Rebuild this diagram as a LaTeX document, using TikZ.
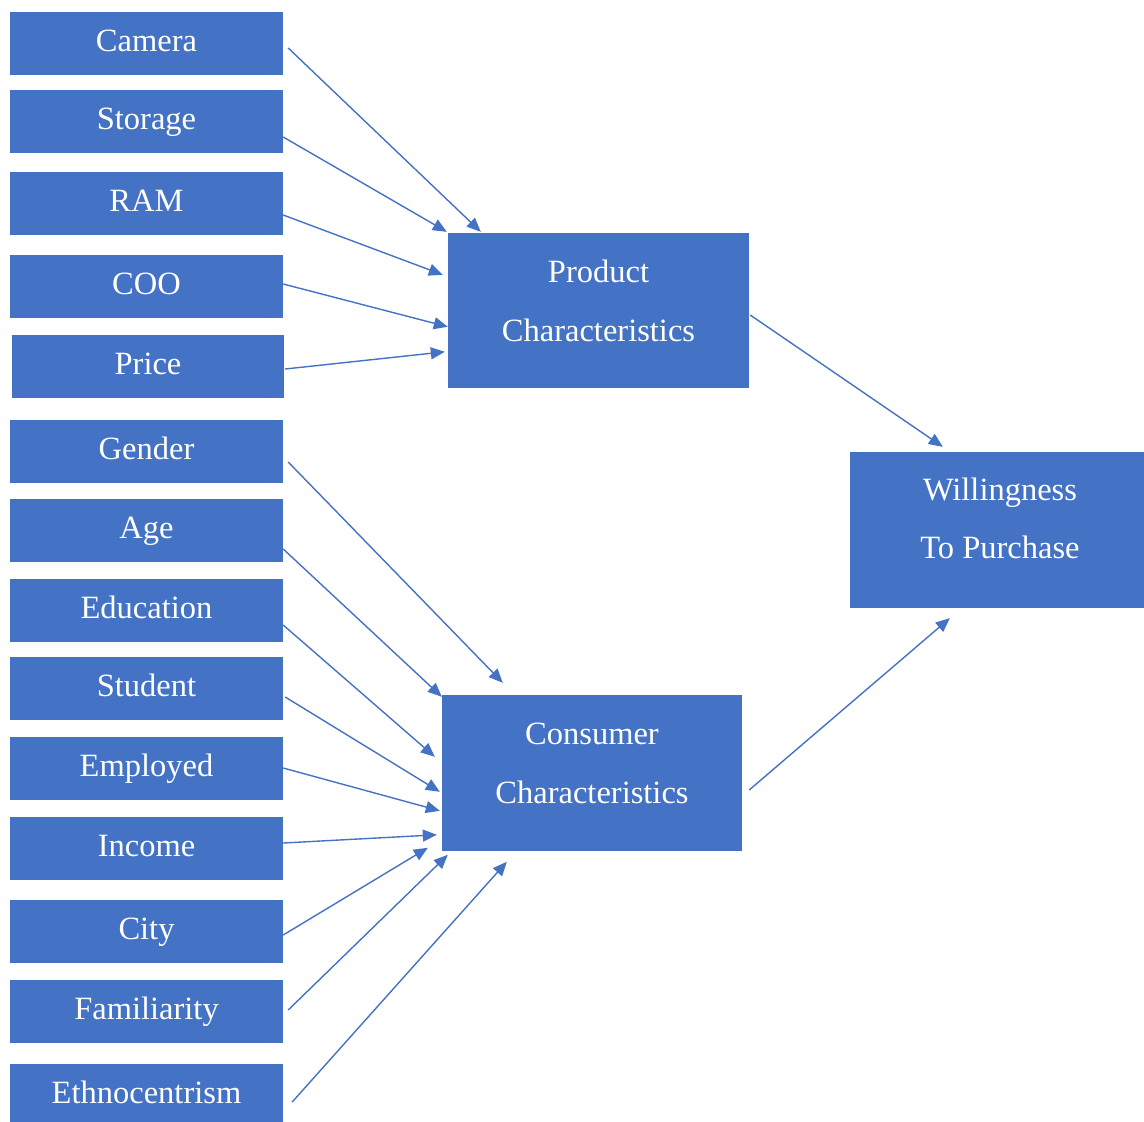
\documentclass[tikz,border=0pt]{standalone}
\usepackage{fontspec}
\setmainfont{Liberation Serif}
\usetikzlibrary{arrows.meta,calc}
\definecolor{boxblue}{HTML}{4472C4}
\begin{document}
\begin{tikzpicture}[x=1pt,y=-1pt,
  box/.style={fill=boxblue, draw=none, inner sep=0pt, text=white,
    font=\fontsize{32.5}{40}\selectfont},
  small/.style={box, minimum width=273pt, minimum height=63pt, text height=22pt, text depth=6pt},
  big/.style={box, minimum width=300pt, minimum height=156pt},
  txt/.style={text=white, inner sep=0pt, anchor=base, font=\fontsize{32.5}{40}\selectfont},
  conn/.style={draw=boxblue, line width=1.4pt, -{Triangle[length=14pt,width=12pt]}}]
\useasboundingbox (0,0) rectangle (1144,1122);
\clip (0,0) rectangle (1144,1122);
\fill[white] (0,0) rectangle (1144,1122);

% left column
\node[small] (camera) at (146.5,43.5) {Camera};
\node[small] (storage) at (146.5,121.5) {Storage};
\node[small] (ram) at (146.5,203.5) {RAM};
\node[small] (coo) at (146.5,286.5) {COO};
\node[small, minimum width=272pt] (price) at (148,366) {Price};
\node[small] (gender) at (146.5,451) {Gender};
\node[small] (age) at (146.5,530.5) {Age};
\node[small] (education) at (146.5,610.5) {Education};
\node[small] (student) at (146.5,688.5) {Student};
\node[small] (employed) at (146.5,768.5) {Employed};
\node[small] (income) at (146.5,848.5) {Income};
\node[small] (city) at (146.5,931.5) {City};
\node[small] (familiarity) at (146.5,1011.5) {Familiarity};
\node[small] (ethno) at (146.5,1095.5) {Ethnocentrism};

% middle / right boxes
\node[big, minimum width=301pt, minimum height=155pt] (prod) at (598.5,310.5) {};
\node[txt] (prodA) at (598.5,282) {Product};
\node[txt] (prodB) at (598.5,341) {Characteristics};
\node[big] (cons) at (592,773) {};
\node[txt] (consA) at (592,744) {Consumer};
\node[txt] (consB) at (592,803) {Characteristics};
\node[big] (will) at (1000,530) {};
\node[txt] (willA) at (1000,500) {Willingness};
\node[txt] (willB) at (1000,558) {To Purchase};

% connectors to product
\draw[conn] ($(camera.east)+(5,4.5)$) -- ($(prod.north west)+(33,-1)$);
\draw[conn] ($(storage.east)+(0,15.5)$) -- ($(prod.north west)+(-1,-1)$);
\draw[conn] ($(ram.east)+(0,11.5)$) -- ($(prod.north west)+(-5,42)$);
\draw[conn] ($(coo.east)+(0,-2.5)$) -- ($(prod.north west)+(0,94)$);
\draw[conn] ($(price.east)+(1,3)$) -- ($(prod.north west)+(-3,119)$);

% connectors to consumer
\draw[conn] ($(gender.east)+(5,11)$) -- ($(cons.north west)+(61,-12)$);
\draw[conn] ($(age.east)+(0,18.5)$) -- ($(cons.north west)+(0,2)$);
\draw[conn] ($(education.east)+(0,14.5)$) -- ($(cons.north west)+(-7,62)$);
\draw[conn] ($(student.east)+(2,8.5)$) -- ($(cons.north west)+(-2,97)$);
\draw[conn] ($(employed.east)+(0,-0.5)$) -- ($(cons.north west)+(-2,116)$);
\draw[conn] ($(income.east)+(0,-5.5)$) -- ($(cons.north west)+(-5,140)$);
\draw[conn] ($(city.east)+(0,3.5)$) -- ($(cons.north west)+(-14,153)$);
\draw[conn] ($(familiarity.east)+(5,-1.5)$) -- ($(cons.north west)+(6,160)$);
\draw[conn] ($(ethno.east)+(9,6.5)$) -- ($(cons.north west)+(65,167)$);

% connectors to willingness
\draw[conn] ($(prod.east)+(1,4.5)$) -- ($(will.north west)+(93,-5)$);
\draw[conn] ($(cons.east)+(7,17)$) -- ($(will.south west)+(100,10)$);
\end{tikzpicture}
\end{document}
